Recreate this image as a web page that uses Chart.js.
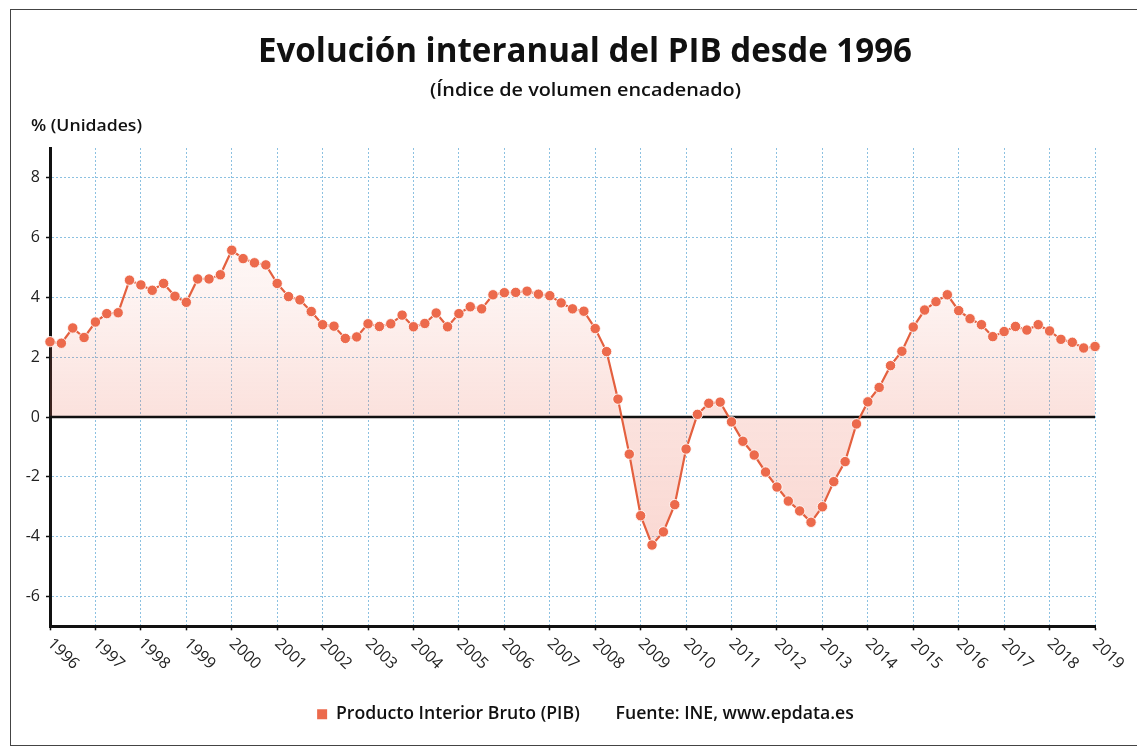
<!DOCTYPE html>
<html>
<head>
<meta charset="utf-8">
<script src="https://cdn.jsdelivr.net/npm/chart.js@4.4.1/dist/chart.umd.min.js"></script>
<style>
  html, body { margin: 0; padding: 0; background: #ffffff; }
  #wrap { position: relative; width: 1137px; height: 749px; overflow: hidden; background: #ffffff; }
  #frame { position: absolute; left: 10px; top: 9px; width: 1200px; height: 737px; border: 1px solid #444; box-sizing: border-box; }
  .t { position: absolute; white-space: nowrap; transform-origin: 0 50%; color: #111; font-family: "Open Sans", sans-serif; }
  #c { position: absolute; left: 0; top: 0; }
</style>
</head>
<body>
<div id="wrap">
  <div id="frame"></div>
  <canvas id="c" width="1171" height="749"></canvas>
  <div class="t" id="title">Evolución interanual del PIB desde 1996</div>
  <div class="t" id="sub">(Índice de volumen encadenado)</div>
  <div class="t" id="unit">% (Unidades)</div>
</div>
<script>
// ---- DATA ----
const years = [1996, 1997, 1998, 1999, 2000, 2001, 2002, 2003, 2004, 2005, 2006, 2007,
               2008, 2009, 2010, 2011, 2012, 2013, 2014, 2015, 2016, 2017, 2018, 2019];
const quarters = ['T1', 'T2', 'T3', 'T4'];
const pib = [
  2.52, 2.47, 2.98, 2.66,    // 1996
  3.18, 3.46, 3.49, 4.58,    // 1997
  4.42, 4.24, 4.47, 4.04,    // 1998
  3.84, 4.62, 4.62, 4.76,    // 1999
  5.58, 5.30, 5.16, 5.09,    // 2000
  4.47, 4.03, 3.92, 3.53,    // 2001
  3.09, 3.04, 2.63, 2.68,    // 2002
  3.12, 3.03, 3.12, 3.41,    // 2003
  3.02, 3.13, 3.48, 3.02,    // 2004
  3.46, 3.69, 3.62, 4.09,    // 2005
  4.16, 4.17, 4.21, 4.11,    // 2006
  4.06, 3.82, 3.62, 3.54,    // 2007
  2.96, 2.19, 0.60, -1.24,   // 2008
  -3.30, -4.28, -3.84, -2.93,// 2009
  -1.07, 0.09, 0.46, 0.50,   // 2010
  -0.16, -0.81, -1.27, -1.84,// 2011
  -2.34, -2.81, -3.14, -3.52,// 2012
  -3.00, -2.16, -1.49, -0.23,// 2013
  0.51, 0.99, 1.72, 2.20,    // 2014
  3.01, 3.58, 3.86, 4.09,    // 2015
  3.56, 3.29, 3.09, 2.69,    // 2016
  2.86, 3.03, 2.91, 3.09,    // 2017
  2.88, 2.60, 2.50, 2.31,    // 2018
  2.36                       // 2019
];
const categories = years.flatMap(y => quarters.map(q => y + ' ' + q)).slice(0, pib.length);
const yearLabels = years.map(String);
const yTickValues = [-6, -4, -2, 0, 2, 4, 6, 8];
const seriesLabel = 'Producto Interior Bruto (PIB)';
const sourceLabel = 'Fuente: INE, www.epdata.es';

// ---- STYLE ----
const FONT = '"Open Sans", sans-serif';
const LINE = '#e4603f';
const DOT = '#ec6a4c';
const GRID = 'rgba(120,182,220,0.85)';

const measure = document.createElement('canvas').getContext('2d');
function textWidth(txt, weight, size) {
  measure.font = weight + ' ' + size + 'px ' + FONT;
  return measure.measureText(txt).width;
}
function placeText(id, weight, size, left, right, capCenter) {
  const el = document.getElementById(id);
  el.style.font = weight + ' ' + size + 'px ' + FONT;
  el.style.lineHeight = size + 'px';
  el.style.left = left + 'px';
  el.style.top = (capCenter - 0.531 * size) + 'px';
  const w = textWidth(el.textContent, weight, size);
  el.style.transform = 'scaleX(' + ((right - left) / w) + ')';
}
placeText('title', 700, 34, 258, 912, 50);
placeText('sub', 600, 18, 430, 741, 90);
placeText('unit', 600, 15.5, 31, 142, 126);

const legendSize = 15 * 244 / textWidth(seriesLabel, 600, 15);

const zeroLine = {
  id: 'zeroLine',
  beforeDatasetDraw(chart) {
    const { ctx, chartArea: a, scales: { y } } = chart;
    const py = y.getPixelForValue(0);
    ctx.save();
    ctx.strokeStyle = '#111';
    ctx.lineWidth = 2.5;
    ctx.beginPath();
    ctx.moveTo(a.left, py);
    ctx.lineTo(a.right, py);
    ctx.stroke();
    ctx.restore();
  }
};
const labelAlign = {
  id: 'labelAlign',
  beforeDraw(chart) {
    const items = chart.scales.x.getLabelItems();
    items.forEach(it => { it.options.textAlign = 'left'; });
  }
};

new Chart(document.getElementById('c'), {
  type: 'line',
  data: {
    labels: categories,
    datasets: [{
      label: seriesLabel,
      data: pib,
      borderColor: LINE,
      borderWidth: 2.2,
      tension: 0,
      pointRadius: 5.2,
      pointHoverRadius: 5.2,
      pointBackgroundColor: DOT,
      pointBorderColor: 'rgba(255,255,255,0.85)',
      pointBorderWidth: 1,
      fill: 'origin',
      backgroundColor: (c) => {
        const a = c.chart.chartArea;
        if (!a) return 'rgba(236,110,88,0.15)';
        const g = c.chart.ctx.createLinearGradient(0, a.top, 0, a.bottom);
        g.addColorStop(0, 'rgba(236,110,88,0.02)');
        g.addColorStop(0.3, 'rgba(236,110,88,0.08)');
        g.addColorStop(0.55, 'rgba(236,110,88,0.2)');
        g.addColorStop(1, 'rgba(236,110,88,0.3)');
        return g;
      }
    }]
  },
  options: {
    responsive: false,
    animation: false,
    events: [],
    layout: { padding: { top: 148, left: 0, right: 0, bottom: 16 } },
    plugins: {
      title: { display: false },
      tooltip: { enabled: false },
      legend: {
        position: 'bottom',
        labels: {
          color: '#111',
          boxWidth: 10,
          boxHeight: 10,
          padding: 17,
          font: { family: FONT, size: legendSize, weight: '600' },
          generateLabels: () => [
            { text: seriesLabel, fillStyle: DOT, strokeStyle: DOT, lineWidth: 0, hidden: false, datasetIndex: 0, fontColor: '#111' },
            { text: sourceLabel, fillStyle: 'rgba(0,0,0,0)', strokeStyle: 'rgba(0,0,0,0)', lineWidth: 0, hidden: false, fontColor: '#111' }
          ]
        }
      }
    },
    scales: {
      x: {
        type: 'category',
        offset: false,
        grid: {
          color: (c) => (c.index % 4 === 0 ? GRID : 'rgba(0,0,0,0)'),
          lineWidth: 1,
          tickColor: (c) => (c.index % 4 === 0 ? '#111' : 'rgba(0,0,0,0)'),
          tickLength: 4,
          tickWidth: 1.5,
          tickBorderDash: []
        },
        border: { display: true, color: '#111', width: 3, dash: [2, 2] },
        ticks: {
          autoSkip: false,
          minRotation: -44,
          maxRotation: -44,
          padding: 4,
          color: '#222',
          font: { family: FONT, size: 16, weight: '400' },
          callback: (v, i) => (i % 4 === 0 ? yearLabels[i / 4] : '')
        },
        afterFit: (s) => { s.height = 62; }
      },
      y: {
        min: -7,
        max: 9,
        afterBuildTicks: (s) => { s.ticks = yTickValues.map(v => ({ value: v })); },
        grid: { color: GRID, lineWidth: 1, tickColor: '#111', tickLength: 4, tickWidth: 1.5, tickBorderDash: [] },
        border: { display: true, color: '#111', width: 3, dash: [2, 2] },
        ticks: { color: '#222', padding: 6, font: { family: FONT, size: 16, weight: '500' } },
        afterFit: (s) => { s.width = 50; }
      },
      yR: {
        position: 'right',
        display: true,
        grid: { display: false },
        border: { display: false },
        ticks: { display: false },
        afterFit: (s) => { s.width = 1171 - 1095; }
      }
    }
  },
  plugins: [zeroLine, labelAlign]
});
</script>
</body>
</html>
